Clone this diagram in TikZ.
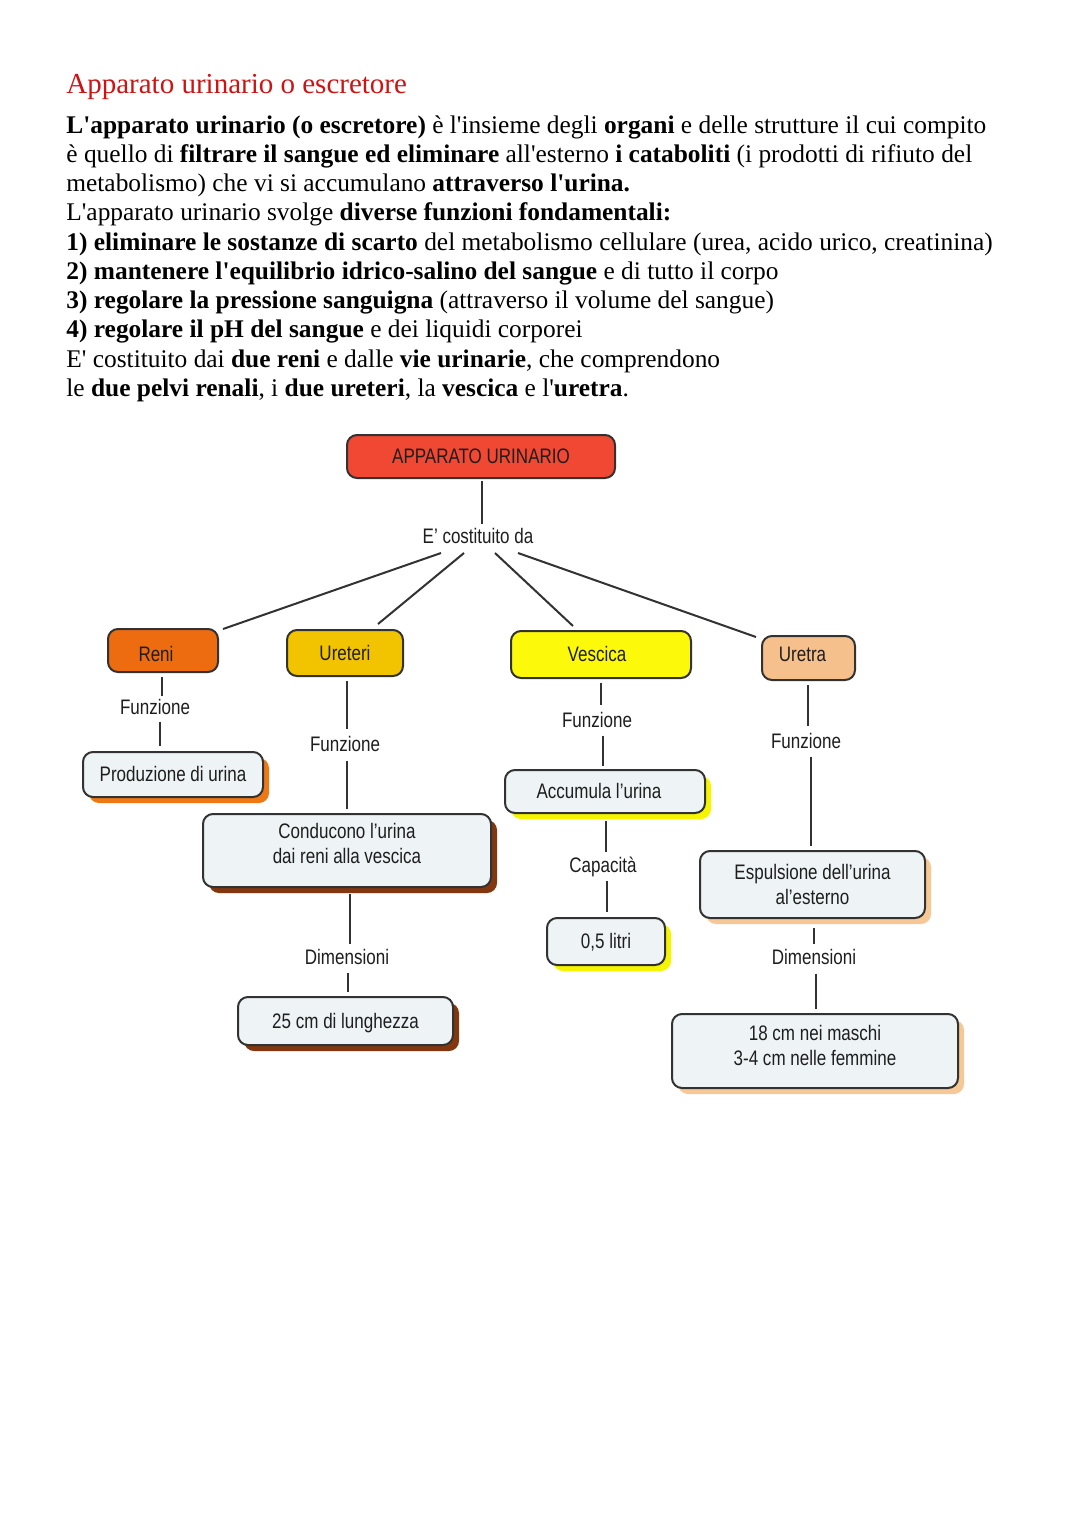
\documentclass[tikz,border=0pt]{standalone}
\usepackage{fontspec}
\setmainfont{Liberation Serif}[Ligatures=TeXOff]
\newfontfamily\diag[FakeStretch=0.81]{Liberation Sans}
\usetikzlibrary{calc,shadows}
\definecolor{titlered}{RGB}{204,20,20}
\definecolor{bord}{RGB}{50,50,50}
\definecolor{txt}{RGB}{30,30,30}
\definecolor{boxfill}{RGB}{238,243,246}
\definecolor{cred}{RGB}{240,72,50}
\definecolor{corange}{RGB}{238,108,16}
\definecolor{cgold}{RGB}{242,196,0}
\definecolor{cyellow}{RGB}{252,250,10}
\definecolor{cpeach}{RGB}{246,192,140}
\definecolor{shorange}{RGB}{238,120,20}
\definecolor{shbrown}{RGB}{130,55,15}
\definecolor{shyellow}{RGB}{245,245,0}
\definecolor{shpeach}{RGB}{245,200,150}
\newcommand\padr[1]{\hbox to #1{}}
\tikzset{
  dfont/.style={font=\diag\fontsize{10.5}{12.5}\selectfont},
  box/.style={draw=bord, line width=1pt, rounded corners=5pt, fill=boxfill, text=txt, dfont, align=center, inner sep=0pt},
  one/.style={text height=0.72em, text depth=0pt},
  lab/.style={text=txt, dfont, inner sep=0pt, text height=0.72em, text depth=0pt},
  conn/.style={draw=bord, line width=1pt},
  sh/.style={drop shadow={shadow xshift=3pt, shadow yshift=-3pt, fill=#1, opacity=1}},
  bodyline/.style={anchor=base west, inner sep=0pt, font=\fontsize{12.7}{14.6}\selectfont},
}
\begin{document}
\begin{tikzpicture}[x=0.5pt,y=-0.5pt]
\fill[white] (0,0) rectangle (1080,1527);
\useasboundingbox (0,0) rectangle (1080,1527);

\node[anchor=base west, inner sep=0pt, text=titlered, font=\fontsize{14.5}{17}\selectfont] (title) at (66,93) {Apparato urinario o escretore};

\node[bodyline] (t1) at (66,133) {\textbf{L'apparato urinario (o escretore)} è l'insieme degli \textbf{organi} e delle strutture il cui compito};
\node[bodyline] (t2) at (66,162.3) {è quello di \textbf{filtrare il sangue ed eliminare} all'esterno \textbf{i cataboliti} (i prodotti di rifiuto del};
\node[bodyline] (t3) at (66,191.5) {metabolismo) che vi si accumulano \textbf{attraverso l'urina.}};
\node[bodyline] (t4) at (66,220.8) {L'apparato urinario svolge \textbf{diverse funzioni fondamentali:}};
\node[bodyline] (t5) at (66,250) {\textbf{1) eliminare le sostanze di scarto} del metabolismo cellulare (urea, acido urico, creatinina)};
\node[bodyline] (t6) at (66,279.3) {\textbf{2) mantenere l'equilibrio idrico-salino del sangue} e di tutto il corpo};
\node[bodyline] (t7) at (66,308.5) {\textbf{3) regolare la pressione sanguigna} (attraverso il volume del sangue)};
\node[bodyline] (t8) at (66,337.8) {\textbf{4) regolare il pH del sangue} e dei liquidi corporei};
\node[bodyline] (t9) at (66,367) {E' costituito dai \textbf{due reni} e dalle \textbf{vie urinarie}, che comprendono};
\node[bodyline] (t10) at (66,396.3) {le \textbf{due pelvi renali}, i \textbf{due ureteri}, la \textbf{vescica} e l'\textbf{uretra}.};

% top
\node[box, one, fill=cred, minimum width=134pt, minimum height=21.5pt] (app) at (481,456.5) {APPARATO URINARIO};
\node[lab] (cost) at (478,536) {E’ costituito da};
\draw[conn] ($(app.south)+(1,2)$) -- ($(cost.north)+(4,-4)$);

% level 1
\node[box, fill=corange, minimum width=55pt, minimum height=21.5pt, text height=0.72em+3.5pt, text depth=0pt] (reni) at (163,650.5) {Reni\padr{7pt}};
\node[box, one, fill=cgold, minimum width=58pt, minimum height=23pt] (ureteri) at (345,653) {Ureteri};
\node[box, one, fill=cyellow, minimum width=90pt, minimum height=23.5pt] (vescica) at (601,654.5) {Vescica\padr{4pt}};
\node[box, fill=cpeach, minimum width=46.5pt, minimum height=22pt, text height=0.72em, text depth=4pt] (uretra) at (808.5,658) {Uretra\padr{6pt}};

\draw[conn] ($(cost.center)+(-37,17)$) -- ($(reni.north east)+(4,1)$);
\draw[conn] ($(cost.center)+(-14,17)$) -- ($(ureteri.north)+(33,-5)$);
\draw[conn] ($(cost.center)+(17,17)$) -- ($(vescica.north)+(-28,-4)$);
\draw[conn] ($(cost.center)+(40,17)$) -- ($(uretra.north west)+(-5,2)$);

% Reni branch
\node[lab] (f1) at (155,707) {Funzione};
\node[box, one, sh=shorange, minimum width=90pt, minimum height=22.5pt] (prod) at (173,774.5) {Produzione di urina};
\draw[conn] ($(reni.south)+(-1,4)$) -- ($(f1.north)+(7,-3)$);
\draw[conn] ($(f1.south)+(5,7)$) -- ($(prod.north)+(-13,-5)$);

% Ureteri branch
\node[lab] (f2) at (345,744) {Funzione};
\node[box, sh=shbrown, minimum width=144pt, minimum height=36.5pt] (cond) at (347,850.5) {Conducono l’urina\\dai reni alla vescica\rule[-7.1pt]{0pt}{7.1pt}};
\node[lab] (d1) at (347,957) {Dimensioni};
\node[box, one, sh=shbrown, minimum width=107.5pt, minimum height=24pt] (lung) at (345.5,1021) {25 cm di lunghezza};
\draw[conn] ($(ureteri.south)+(2,4)$) -- ($(f2.north)+(2,-7)$);
\draw[conn] ($(f2.south)+(2,9)$) -- ($(cond.north)+(0,-4)$);
\draw[conn] ($(cond.south)+(3,6)$) -- ($(d1.north)+(3,-5)$);
\draw[conn] ($(d1.south)+(1,8)$) -- ($(lung.north)+(2.5,-4)$);

% Vescica branch
\node[lab] (f3) at (597,720) {Funzione};
\node[box, one, sh=shyellow, minimum width=100pt, minimum height=21.5pt] (acc) at (605,791.5) {Accumula l’urina\padr{6pt}};
\node[lab] (cap) at (603,865) {Capacità};
\node[box, one, sh=shyellow, minimum width=59pt, minimum height=23.5pt] (litri) at (606,941.5) {0,5 litri};
\draw[conn] ($(vescica.south)+(0,4)$) -- ($(f3.north)+(4,-7)$);
\draw[conn] ($(f3.south)+(6,8)$) -- ($(acc.north)+(-2,-3)$);
\draw[conn] ($(acc.south)+(1,7)$) -- ($(cap.north)+(3,-5)$);
\draw[conn] ($(cap.south)+(4,8)$) -- ($(litri.north)+(1,-5)$);

% Uretra branch
\node[lab] (f4) at (806,741) {Funzione};
\node[box, sh=shpeach, minimum width=112.5pt, minimum height=33.5pt] (esp) at (812.5,884.5) {Espulsione dell’urina\\al’esterno};
\node[lab] (d2) at (814,957) {Dimensioni};
\node[box, sh=shpeach, minimum width=143pt, minimum height=37pt] (maschi) at (815,1051) {18 cm nei maschi\\3-4 cm nelle femmine\rule[-6.1pt]{0pt}{6.1pt}};
\draw[conn] ($(uretra.south)+(-0.5,4)$) -- ($(f4.north)+(2,-7)$);
\draw[conn] ($(f4.south)+(5,8)$) -- ($(esp.north)+(-1.5,-4)$);
\draw[conn] ($(esp.south)+(1.5,9)$) -- ($(d2.north)+(0,-5)$);
\draw[conn] ($(d2.south)+(2,9)$) -- ($(maschi.north)+(1,-4)$);
\end{tikzpicture}
\end{document}
